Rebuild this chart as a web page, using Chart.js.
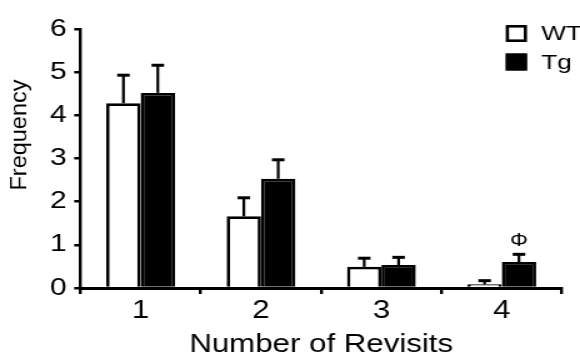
<!DOCTYPE html>
<html><head><meta charset="utf-8">
<script src="https://cdn.jsdelivr.net/npm/chart.js@4.4.1/dist/chart.umd.min.js"></script>
<style>
html,body{margin:0;padding:0;background:#fff;overflow:hidden}
#wrap{position:absolute;left:0;top:0;width:464px;height:356px;transform:scaleX(1.25);transform-origin:0 0}
</style></head><body>
<div id="wrap"><canvas id="c" width="464" height="356"></canvas></div>
<script>
const categories = ['1', '2', '3', '4'];
const seriesNames = ['WT', 'Tg'];
const wtMeans = [4.28, 1.66, 0.49, 0.085];
const wtErrors = [0.65, 0.43, 0.20, 0.085];
const tgMeans = [4.52, 2.53, 0.53, 0.60];
const tgErrors = [0.64, 0.44, 0.18, 0.18];
const yTicks = [0, 1, 2, 3, 4, 5, 6];
const marks = [{ series: 1, index: 3, text: 'Φ' }];
const xTitle = 'Number of Revisits';
const yTitle = 'Frequency';

const FONT = '"Liberation Sans", Arial, sans-serif';
const errorsBySeries = [wtErrors, tgErrors];

const errorBars = {
  id: 'errorBars',
  afterDatasetsDraw(chart) {
    const ctx = chart.ctx, y = chart.scales.y;
    ctx.save();
    ctx.strokeStyle = '#000';
    ctx.lineCap = 'butt';
    chart.data.datasets.forEach((ds, di) => {
      const meta = chart.getDatasetMeta(di);
      meta.data.forEach((bar, i) => {
        const top = y.getPixelForValue(ds.data[i] + errorsBySeries[di][i]);
        ctx.lineWidth = 2.2;
        ctx.beginPath(); ctx.moveTo(bar.x, bar.y); ctx.lineTo(bar.x, top); ctx.stroke();
        ctx.lineWidth = 3;
        ctx.beginPath(); ctx.moveTo(bar.x - 5, top); ctx.lineTo(bar.x + 5, top); ctx.stroke();
      });
    });
    ctx.fillStyle = '#000';
    ctx.font = '18px ' + FONT;
    ctx.textAlign = 'center';
    ctx.textBaseline = 'alphabetic';
    marks.forEach(m => {
      const bar = chart.getDatasetMeta(m.series).data[m.index];
      const ds = chart.data.datasets[m.series];
      const top = y.getPixelForValue(ds.data[m.index] + errorsBySeries[m.series][m.index]);
      ctx.fillText(m.text, bar.x, top - 8);
    });
    ctx.restore();
  }
};

const customLegend = {
  id: 'customLegend',
  afterDraw(chart) {
    const ctx = chart.ctx;
    ctx.save();
    ctx.font = '21px ' + FONT;
    ctx.textAlign = 'left';
    ctx.textBaseline = 'middle';
    chart.data.datasets.forEach((ds, i) => {
      const bx = 404.6, by = 25 + i * 28.5, bw = 17, bh = 17;
      ctx.fillStyle = ds.backgroundColor;
      ctx.fillRect(bx, by, bw, bh);
      ctx.lineWidth = 2.6;
      ctx.strokeStyle = '#000';
      ctx.strokeRect(bx + 1.3, by + 1.3, bw - 2.6, bh - 2.6);
      ctx.fillStyle = '#000';
      ctx.fillText(ds.label, 433, by + bh / 2 + 1);
    });
    ctx.restore();
  }
};

const yTitlePlugin = {
  id: 'yTitlePlugin',
  afterDraw(chart) {
    const ctx = chart.ctx;
    ctx.save();
    ctx.translate(20.5, 135);
    ctx.rotate(-Math.PI / 2);
    ctx.scale(1, 0.8);
    ctx.font = '23.5px ' + FONT;
    ctx.fillStyle = '#000';
    ctx.textAlign = 'center';
    ctx.textBaseline = 'alphabetic';
    ctx.fillText(yTitle, 0, 0);
    ctx.restore();
  }
};

new Chart(document.getElementById('c'), {
  type: 'bar',
  data: {
    labels: categories,
    datasets: [
      { label: seriesNames[0], data: wtMeans, backgroundColor: '#ffffff', borderColor: '#000', borderWidth: 2.7 },
      { label: seriesNames[1], data: tgMeans, backgroundColor: '#000000', borderColor: '#000', borderWidth: 2.7 }
    ]
  },
  options: {
    responsive: false,
    devicePixelRatio: 1,
    animation: false,
    categoryPercentage: 0.571,
    barPercentage: 1,
    layout: { padding: { left: 34, right: 14.4, top: 29, bottom: 0 } },
    plugins: { legend: { display: false }, tooltip: { enabled: false } },
    scales: {
      x: {
        offset: true,
        grid: { offset: true, drawOnChartArea: false, drawTicks: true, tickLength: 6, color: '#000', lineWidth: 2.4 },
        border: { display: true, color: '#000', width: 3 },
        ticks: { color: '#000', font: { family: FONT, size: 25, lineHeight: 0.9 }, padding: 6 },
        title: { display: true, text: xTitle, color: '#000', font: { family: FONT, size: 25, lineHeight: 0.9 }, padding: { top: 5, bottom: 0 } }
      },
      y: {
        min: 0, max: 6,
        afterBuildTicks(scale) { scale.ticks = yTicks.map(v => ({ value: v })); },
        grid: { drawOnChartArea: false, drawTicks: true, tickLength: 5, color: '#000', lineWidth: 2.5 },
        border: { display: true, color: '#000', width: 2.4 },
        ticks: { color: '#000', font: { family: FONT, size: 24 }, padding: 6 }
      }
    }
  },
  plugins: [errorBars, customLegend, yTitlePlugin]
});
</script>
</body></html>
